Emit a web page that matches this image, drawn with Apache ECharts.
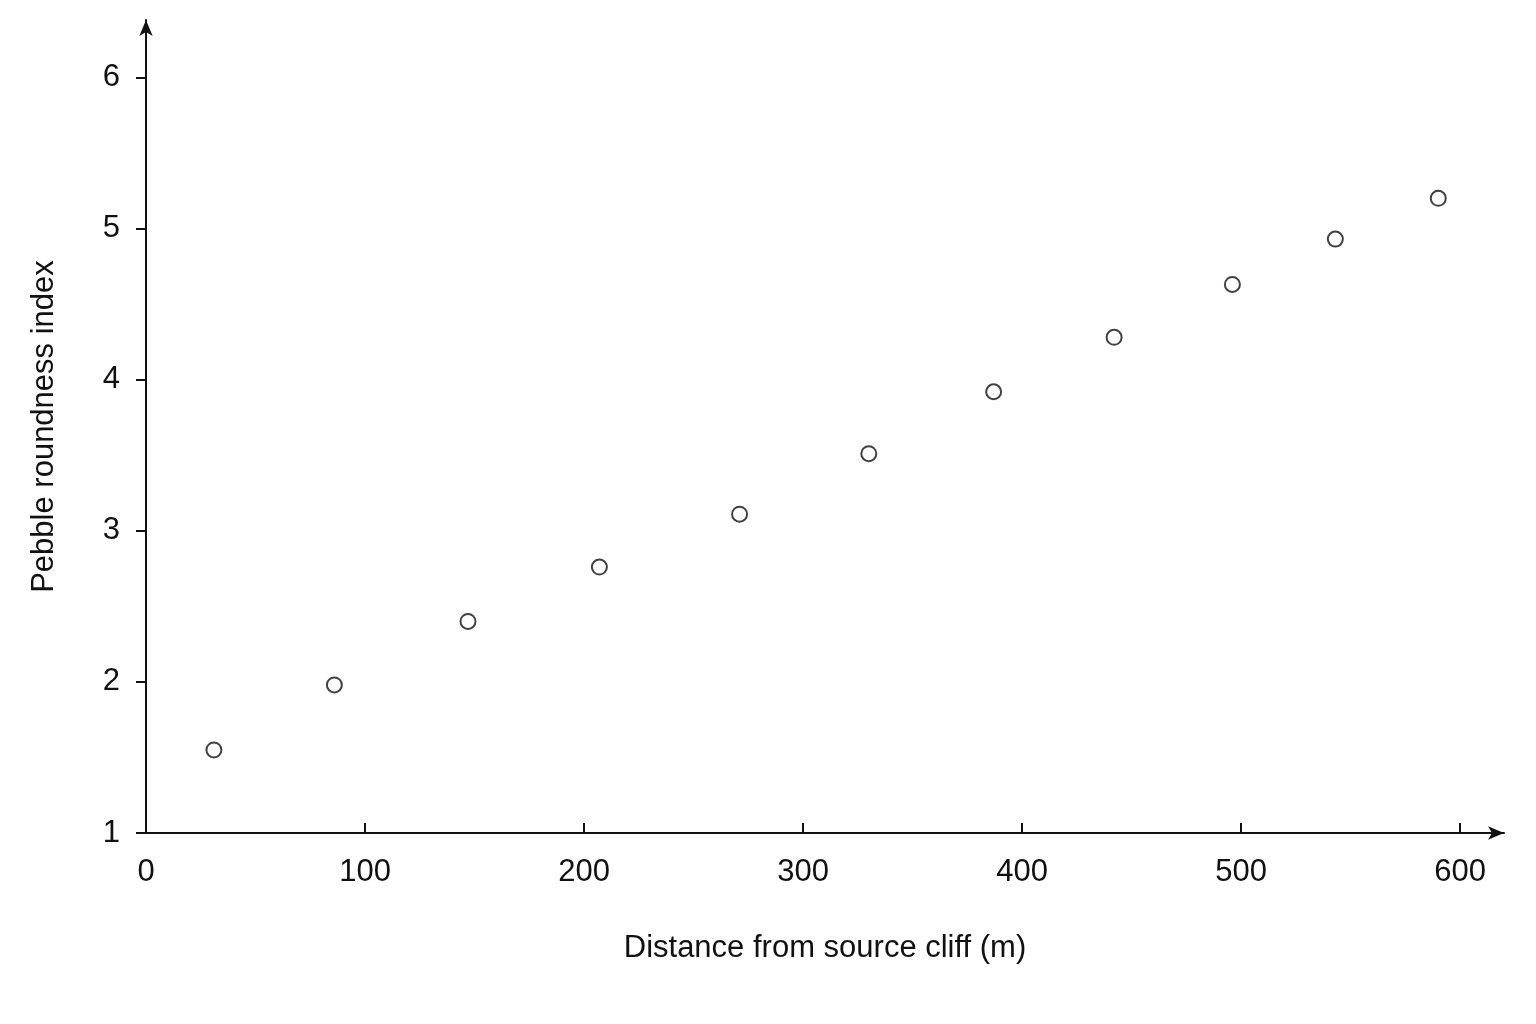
<!DOCTYPE html>
<html><head><meta charset="utf-8">
<script src="https://cdn.jsdelivr.net/npm/echarts@6/dist/echarts.min.js"></script>
<style>html,body{margin:0;background:#fff}#c{width:1536px;height:1024px}</style>
</head><body><div id="c"></div>
<script>
const distances = [31, 86, 147, 207, 271, 330, 387, 442, 496, 543, 590];
const roundness = [1.55, 1.98, 2.40, 2.76, 3.11, 3.51, 3.92, 4.28, 4.63, 4.93, 5.20];
const xTicks = [0, 100, 200, 300, 400, 500, 600];
const yTicks = [1, 2, 3, 4, 5, 6];
const font = 'Liberation Sans, Arial, sans-serif';
const chart = echarts.init(document.getElementById('c'));
chart.setOption({
  animation: false,
  grid: {left: 146, top: 20, width: 1358, height: 813},
  xAxis: {
    type: 'value', min: 0, max: 620, interval: 100,
    name: 'Distance from source cliff (m)', nameLocation: 'middle', nameGap: 100,
    nameTextStyle: {fontSize: 31, color: '#111', fontFamily: font},
    axisLine: {show: true, symbol: ['none', 'arrow'], symbolSize: [10, 16], lineStyle: {color: '#111', width: 2}},
    axisTick: {show: true, inside: true, length: 10, lineStyle: {color: '#111', width: 2}},
    axisLabel: {fontSize: 31, color: '#111', fontFamily: font, margin: 24, showMaxLabel: false,
      formatter: v => xTicks.includes(v) ? String(v) : ''},
    splitLine: {show: false}
  },
  yAxis: {
    type: 'value', min: 1, max: 6.38, interval: 1,
    name: 'Pebble roundness index', nameLocation: 'middle', nameGap: 86,
    nameTextStyle: {fontSize: 31, color: '#111', fontFamily: font},
    axisLine: {show: true, symbol: ['none', 'arrow'], symbolSize: [10, 16], lineStyle: {color: '#111', width: 2}},
    axisTick: {show: true, length: 10, lineStyle: {color: '#111', width: 2}},
    axisLabel: {fontSize: 31, color: '#111', fontFamily: font, margin: 26, showMaxLabel: false,
      formatter: v => yTicks.includes(v) ? String(v) : ''},
    splitLine: {show: false}
  },
  series: [{
    type: 'scatter', symbol: 'circle', symbolSize: 15,
    itemStyle: {color: '#fff', borderColor: '#111', borderWidth: 2},
    data: distances.map((d, i) => [d, roundness[i]])
  }]
});
</script></body></html>
